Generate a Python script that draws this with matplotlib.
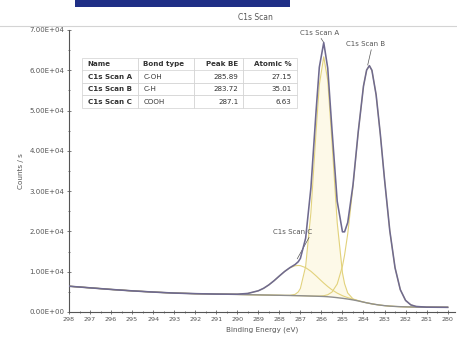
#!/usr/bin/env python3
"""C1s XPS scan with fitted components, peak table and Shirley-type background."""

import matplotlib

matplotlib.use("Agg")
import matplotlib.pyplot as plt
from matplotlib.patches import Rectangle
from matplotlib.lines import Line2D
from matplotlib.ticker import FuncFormatter, MultipleLocator

# binding energy grid (eV)
ENERGY = [
    298, 297, 296, 295, 294, 293, 292, 291, 290, 289.5,
    289.0, 288.75, 288.5, 288.25, 288.0, 287.75, 287.5, 287.25, 287.1, 287.0,
    286.75, 286.5, 286.25, 286.1, 285.89, 285.7, 285.5, 285.25, 285.0, 284.9,
    284.75, 284.5, 284.25, 284.0, 283.85, 283.72, 283.6, 283.4, 283.2, 283.0,
    282.75, 282.5, 282.25, 282.0, 281.75, 281.5, 281.0, 280.5, 280.0,
]
# measured envelope (counts / s)
ENVELOPE = [
    6400, 6000, 5600, 5250, 4950, 4700, 4550, 4450, 4421, 4608,
    5265, 5880, 6732, 7775, 8939, 10058, 11003, 11791, 12488, 13308,
    18322, 30839, 50190, 60769, 66871, 60535, 45421, 27500, 19900, 19900,
    22200, 31499, 44734, 56100, 60076, 61150, 59993, 53918, 44109, 32915,
    20169, 10968, 5538, 2875, 1767, 1374, 1200, 1180, 1160,
]
BACKGROUND = [
    6400, 6000, 5600, 5250, 4950, 4700, 4550, 4450, 4350, 4300,
    4250, 4220, 4200, 4170, 4150, 4120, 4100, 4070, 4050, 4040,
    4000, 3960, 3920, 3890, 3850, 3790, 3700, 3560, 3400, 3330,
    3220, 3000, 2750, 2450, 2280, 2150, 2020, 1850, 1700, 1580,
    1460, 1380, 1320, 1280, 1250, 1230, 1200, 1180, 1160,
]
# fitted components, net counts above background
SCAN_A = [
    0, 0, 0, 0, 0, 0, 0, 0, 0, 0,
    0, 0, 0, 0, 0, 0, 39, 314, 938, 1809,
    7314, 20730, 41220, 52510, 59500, 53720, 38670, 18630, 6300, 3700,
    1495, 250, 29, 0, 0, 0, 0, 0, 0, 0,
    0, 0, 0, 0, 0, 0, 0, 0, 0,
]
SCAN_B = [
    0, 0, 0, 0, 0, 0, 0, 0, 0, 0,
    0, 0, 0, 0, 0, 0, 0, 0, 0, 0,
    0, 0, 24, 59, 188, 493, 1235, 3386, 7985, 10785,
    16160, 28072, 41872, 53613, 57796, 59000, 57973, 52068, 42409, 31335,
    18709, 9588, 4218, 1595, 517, 144, 0, 0, 0,
]
SCAN_C = [
    0, 0, 0, 0, 0, 0, 0, 0, 71, 308,
    1015, 1660, 2532, 3605, 4789, 5935, 6864, 7407, 7500, 7459,
    7008, 6144, 5026, 4310, 3333, 2532, 1816, 1127, 652, 514,
    352, 177, 83, 37, 0, 0, 0, 0, 0, 0,
    0, 0, 0, 0, 0, 0, 0, 0, 0,
]

TABLE_HEADER = ["Name", "Bond type", "Peak BE", "Atomic %"]
PEAK_NAMES = ["C1s Scan A", "C1s Scan B", "C1s Scan C"]
BOND_TYPES = ["C-OH", "C-H", "COOH"]
PEAK_BE = ["285.89", "283.72", "287.1"]
ATOMIC_PCT = ["27.15", "35.01", "6.63"]

X_TICKS = list(range(298, 279, -1))
Y_TICKS = [0, 10000, 20000, 30000, 40000, 50000, 60000, 70000]

ENV_COLOR = "#6f6a8f"
COMP_COLOR = "#e2d27c"
BG_COLOR = "#8e8e8e"
TEXT_COLOR = "#555555"


def main() -> None:
    fig = plt.figure(figsize=(4.57, 3.47), dpi=100)
    ax = fig.add_axes([69 / 457, 35 / 347, 386 / 457, 282 / 347])

    # header decoration above the plot
    fig.add_artist(Rectangle((75 / 457, 1 - 7 / 347), 215 / 457, 7 / 347,
                             transform=fig.transFigure, color="#1f2f86", lw=0))
    fig.add_artist(Line2D([0, 1], [1 - 26 / 347] * 2, transform=fig.transFigure,
                          color="#d4d4d4", lw=0.8))
    fig.text(255 / 457, 1 - 17 / 347, "C1s Scan", fontsize=5.5, color=TEXT_COLOR,
             ha="center", va="center")

    comp_a = [b + v for b, v in zip(BACKGROUND, SCAN_A)]
    comp_b = [b + v for b, v in zip(BACKGROUND, SCAN_B)]
    comp_c = [b + v for b, v in zip(BACKGROUND, SCAN_C)]

    ax.fill_between(ENERGY, BACKGROUND, comp_a, color="#fdf9e8", lw=0, zorder=1)
    for comp in (comp_a, comp_b, comp_c):
        ax.plot(ENERGY, comp, color=COMP_COLOR, lw=0.8, zorder=2)
    ax.plot(ENERGY, BACKGROUND, color=BG_COLOR, lw=1.0, zorder=3)
    ax.plot(ENERGY, ENVELOPE, color=ENV_COLOR, lw=1.15, zorder=4)

    ann = dict(fontsize=5, color=TEXT_COLOR, ha="center", va="bottom")
    ax.annotate("C1s Scan A", xy=(285.89, 66900), xytext=(286.1, 68600),
                arrowprops=dict(arrowstyle="-", color=TEXT_COLOR, lw=0.5,
                                relpos=(0.5, 0), shrinkA=0, shrinkB=0), **ann)
    ax.annotate("C1s Scan B", xy=(283.8, 61300), xytext=(283.88, 65800),
                arrowprops=dict(arrowstyle="-", color=TEXT_COLOR, lw=0.5,
                                relpos=(0.65, 0), shrinkA=0, shrinkB=0), **ann)
    ax.annotate("C1s Scan C", xy=(287.15, 13200), xytext=(287.35, 19200),
                arrowprops=dict(arrowstyle="-", color=TEXT_COLOR, lw=0.5,
                                relpos=(0.95, 0), shrinkA=0, shrinkB=0), **ann)

    ax.set_xlim(298, 279.65)
    ax.set_ylim(0, 70000)
    ax.set_xticks(X_TICKS, [str(t) for t in X_TICKS])
    ax.set_yticks(Y_TICKS)
    ax.yaxis.set_major_formatter(FuncFormatter(lambda v, _: f"{v:.2E}"))
    ax.xaxis.set_minor_locator(MultipleLocator(0.5))
    ax.yaxis.set_minor_locator(MultipleLocator(5000))
    ax.tick_params(axis="both", which="both", direction="inout", colors="#666666",
                   width=0.6, pad=2)
    ax.tick_params(axis="both", which="major", length=3)
    ax.tick_params(axis="both", which="minor", length=2)
    ax.tick_params(axis="x", labelsize=4.6, labelcolor=TEXT_COLOR)
    ax.tick_params(axis="y", labelsize=5, labelcolor=TEXT_COLOR)
    for side in ("top", "right"):
        ax.spines[side].set_visible(False)
    for side in ("left", "bottom"):
        ax.spines[side].set_color("#555555")
        ax.spines[side].set_linewidth(0.8)

    ax.set_xlabel("Binding Energy (eV)", fontsize=5.2, color=TEXT_COLOR, labelpad=3)
    ax.set_ylabel("Counts / s", fontsize=5.2, color=TEXT_COLOR, labelpad=4)

    # peak table
    rows = [list(r) for r in zip(PEAK_NAMES, BOND_TYPES, PEAK_BE, ATOMIC_PCT)]
    table = ax.table(cellText=rows, colLabels=TABLE_HEADER, cellLoc="left",
                     colLoc="left", bbox=[13 / 386, 204 / 282, 215 / 386, 50 / 282],
                     colWidths=[0.26, 0.26, 0.23, 0.25])
    table.auto_set_font_size(False)
    table.set_zorder(5)
    for (r, c), cell in table.get_celld().items():
        cell.set_edgecolor("#d0d0d0")
        cell.set_linewidth(0.5)
        cell.set_facecolor("white")
        txt = cell.get_text()
        txt.set_fontsize(5.1)
        txt.set_color("#333333")
        if r == 0 or c == 0:
            txt.set_fontweight("bold")
        if c in (2, 3):
            cell._loc = "right"
            txt.set_horizontalalignment("right")

    fig.savefig("out.png", dpi=100, facecolor="white")
    plt.close(fig)


if __name__ == "__main__":
    main()
